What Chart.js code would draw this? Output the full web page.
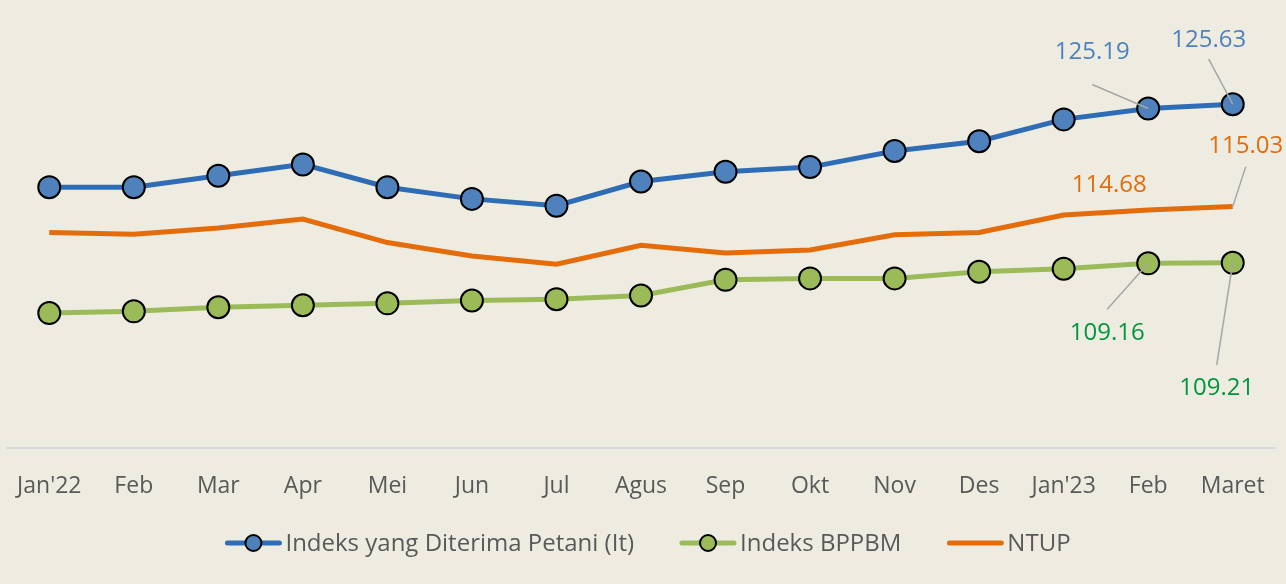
<!DOCTYPE html>
<html>
<head>
<meta charset="utf-8">
<script src="https://cdn.jsdelivr.net/npm/chart.js@4"></script>
<style>
  html, body { margin: 0; padding: 0; background: #EEECE1; }
  #wrap { width: 1286px; height: 584px; position: relative; }
</style>
</head>
<body>
<div id="wrap"><canvas id="ntupChart"></canvas></div>
<script>
// Data
const months = ['Jan\'22', 'Feb', 'Mar', 'Apr', 'Mei', 'Jun', 'Jul', 'Agus', 'Sep', 'Okt', 'Nov', 'Des', 'Jan\'23', 'Feb', 'Maret'];
const itValues    = [117.04, 117.04, 118.22, 119.40, 117.04, 115.83, 115.13, 117.63, 118.64, 119.12, 120.79, 121.80, 124.06, 125.19, 125.63];
const bppbmValues = [104.01, 104.19, 104.61, 104.82, 105.02, 105.31, 105.45, 105.83, 107.45, 107.60, 107.60, 108.29, 108.60, 109.16, 109.21];
const ntupValues  = [112.35, 112.18, 112.81, 113.74, 111.31, 109.92, 109.06, 111.03, 110.23, 110.55, 112.11, 112.35, 114.16, 114.68, 115.03];

const FONT = "'Open Sans', 'DejaVu Sans', sans-serif";

// label placement (offset of label centre and leader start from the point)
const labelSpots = {
  0: { 13: { dx: -56, dy: -56, lx: -56, ly: -24 }, 14: { dx: -24, dy: -64, lx: -24, ly: -45 } },
  1: { 13: { dx: -41, dy: 70, lx: -41, ly: 46 },  14: { dx: -16, dy: 125, lx: -16, ly: 102 } },
  2: { 13: { dx: -39, dy: -25 },                  14: { dx: 13, dy: -60, lx: 13, ly: -40 } }
};
const labelColors = ['#4F81BD', '#00963C', '#E46C0A'];

// Data labels + leader lines
const dataLabelPlugin = {
  id: 'dataLabels',
  afterDatasetsDraw(chart) {
    const ctx = chart.ctx;
    ctx.save();
    ctx.font = '24px ' + FONT;
    ctx.textAlign = 'center';
    ctx.textBaseline = 'middle';
    chart.data.datasets.forEach((ds, di) => {
      const meta = chart.getDatasetMeta(di);
      const spots = labelSpots[di] || {};
      Object.keys(spots).forEach(idx => {
        const s = spots[idx];
        const pt = meta.data[idx];
        if (s.lx !== undefined) {
          ctx.strokeStyle = '#A6A6A6';
          ctx.lineWidth = 1.5;
          ctx.beginPath();
          ctx.moveTo(pt.x + s.lx, pt.y + s.ly);
          ctx.lineTo(pt.x, pt.y);
          ctx.stroke();
        }
        ctx.fillStyle = labelColors[di];
        ctx.fillText(ds.data[idx].toFixed(2), pt.x + s.dx, pt.y + s.dy);
      });
    });
    ctx.restore();
  }
};

// Excel-style legend: line sample with marker
const legendPlugin = {
  id: 'lineLegend',
  afterDraw(chart) {
    const ctx = chart.ctx;
    const sampleW = 56, gapText = 4, gapItem = 46;
    ctx.save();
    ctx.font = '24px ' + FONT;
    ctx.textBaseline = 'middle';
    const items = chart.data.datasets.map(ds => ({
      ds, w: sampleW + gapText + ctx.measureText(ds.label).width
    }));
    const total = items.reduce((s, it) => s + it.w, 0) + gapItem * (items.length - 1);
    let x = chart.width / 2 + 5 - total / 2;
    const y = 543;
    items.forEach(it => {
      const ds = it.ds;
      ctx.strokeStyle = ds.borderColor;
      ctx.lineWidth = 5;
      ctx.lineCap = 'round';
      ctx.beginPath();
      ctx.moveTo(x + 2, y);
      ctx.lineTo(x + sampleW - 2, y);
      ctx.stroke();
      if (ds.pointRadius > 0) {
        ctx.fillStyle = ds.pointBackgroundColor;
        ctx.strokeStyle = '#000';
        ctx.lineWidth = 2;
        ctx.beginPath();
        ctx.arc(x + sampleW / 2, y, 8, 0, Math.PI * 2);
        ctx.fill();
        ctx.stroke();
      }
      ctx.fillStyle = '#595959';
      ctx.textAlign = 'left';
      ctx.fillText(ds.label, x + sampleW + gapText, y + 1);
      x += it.w + gapItem;
    });
    ctx.restore();
  }
};

const ctx = document.getElementById('ntupChart').getContext('2d');
new Chart(ctx, {
  type: 'line',
  data: {
    labels: months,
    datasets: [
      {
        label: 'Indeks yang Diterima Petani (It)',
        data: itValues,
        borderColor: '#2E6DB5',
        borderWidth: 5,
        pointRadius: 11,
        pointHoverRadius: 11,
        pointBackgroundColor: '#4F81BD',
        pointBorderColor: '#000',
        pointBorderWidth: 2,
        tension: 0
      },
      {
        label: 'Indeks BPPBM',
        data: bppbmValues,
        borderColor: '#9BBB59',
        borderWidth: 5,
        pointRadius: 11,
        pointHoverRadius: 11,
        pointBackgroundColor: '#9BBB59',
        pointBorderColor: '#000',
        pointBorderWidth: 2,
        tension: 0
      },
      {
        label: 'NTUP',
        data: ntupValues,
        borderColor: '#E46C0A',
        borderWidth: 5,
        pointRadius: 0,
        tension: 0
      }
    ]
  },
  options: {
    responsive: true,
    maintainAspectRatio: false,
    animation: false,
    layout: { autoPadding: false, padding: { left: 7, right: 11, top: 62, bottom: 60 } },
    plugins: {
      legend: { display: false },
      tooltip: { enabled: false }
    },
    scales: {
      y: {
        display: false,
        min: 90,
        max: 130
      },
      x: {
        offset: true,
        afterFit: (scale) => { scale.paddingLeft = 0; scale.paddingRight = 0; },
        grid: { display: false, drawTicks: false },
        border: { display: true, color: '#D9D9D9', width: 2 },
        ticks: {
          color: '#595959',
          font: { family: FONT, size: 23 },
          padding: 24,
          maxRotation: 0,
          autoSkip: false
        }
      }
    }
  },
  plugins: [dataLabelPlugin, legendPlugin]
});
</script>
</body>
</html>
